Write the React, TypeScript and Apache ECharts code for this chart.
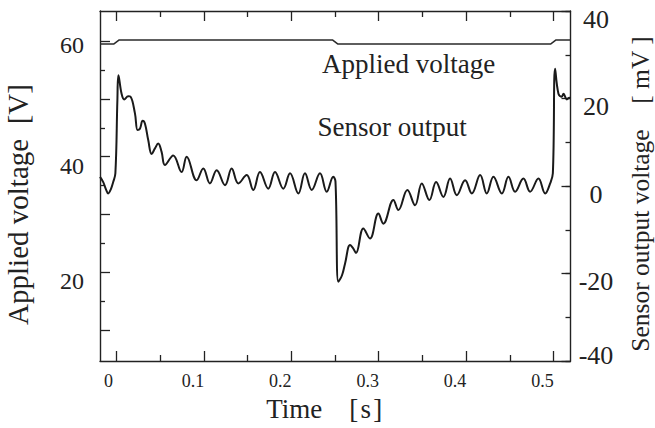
import React, { useEffect, useRef } from 'react';
import * as echarts from 'echarts';

const FONT = '"Liberation Serif", "Times New Roman", Times, serif';
const INK = '#222222';

// x range of the plot (seconds)
const X_MIN = -0.019;
const X_MAX = 0.5195;

// Applied voltage trace (left axis, V)
const voltageTime = [-0.019, -0.003, 0.003, 0.247, 0.253, 0.497, 0.503, 0.5195];
const voltageValue = [59.5, 59.5, 60.2, 60.2, 59.5, 59.5, 60.2, 60.2];

// Sensor output trace (right axis, mV)
const sensorTime = [
  -0.019, -0.0153, -0.0123, -0.0096, -0.0065, -0.0039, -0.0014, 0.0009, 0.0021,
  0.0057, 0.0087, 0.0133, 0.016, 0.021, 0.024, 0.0267, 0.0298, 0.0324, 0.0362,
  0.0401, 0.0439, 0.0476, 0.0515, 0.0553, 0.0648, 0.0744, 0.0802, 0.0916, 0.0992,
  0.1068, 0.1145, 0.1241, 0.1317, 0.1393, 0.1489, 0.1564, 0.1641, 0.1736, 0.1813,
  0.1908, 0.1985, 0.208, 0.2156, 0.2233, 0.2328, 0.2405, 0.248, 0.2505,
  0.2538, 0.258, 0.2615, 0.2672, 0.2706, 0.274, 0.2824, 0.29, 0.2996, 0.3053,
  0.3168, 0.3225, 0.3328, 0.3416, 0.3493, 0.358, 0.3657, 0.374, 0.3817, 0.3894,
  0.3989, 0.4066, 0.4161, 0.4237, 0.4313, 0.4409, 0.4485, 0.4561, 0.4656, 0.4733,
  0.4828, 0.4905, 0.4962, 0.4993, 0.5019, 0.5057, 0.5096, 0.5115, 0.5153, 0.5183,
  0.5195,
];
const sensorValue = [
  2.1, 0.9, -0.7, -1.7, -0.7, 0.9, 2.9, 19.6, 25.3,
  21.1, 19.8, 20.5, 20.4, 16.6, 12.8, 13.1, 14.9, 14.3, 10.5,
  7.3, 8.6, 9.7, 7.8, 4.8, 7.0, 3.2, 6.7, 1.3, 4.0,
  0.6, 3.6, 0.2, 4.0, 0.6, 2.5, -0.9, 3.2, -0.6, 3.2,
  -0.6, 2.9, -1.7, 2.9, -0.9, 2.9, -1.3, 2.1, 1.0,
  -21.9, -20.4, -17.7, -13.5, -14.2, -15.3, -9.7, -12.0, -6.3, -8.6,
  -3.2, -5.5, -0.9, -4.4, 0.6, -3.2, 0.9, -2.5, 1.7, -2.1,
  1.3, -1.7, 2.5, -1.7, 2.1, -1.7, 2.1, -1.3, 1.7, -1.3,
  1.7, -1.7, 0.6, 2.9, 26.8, 21.1, 20.4, 21.1, 19.8, 20.2,
  20.1,
];

// Ticks and labels
const timeTicks = [0, 0.1, 0.2, 0.3, 0.4, 0.5];
const timeMinorTicks = [0.05, 0.15, 0.25, 0.35, 0.45];
const timeTickLabels = ['0', '0.1', '0.2', '0.3', '0.4', '0.5'];
const voltageTicks = [10, 20, 30, 40, 50, 60];
const voltageMinorTicks = [15, 25, 35, 45, 55];
const voltageTickLabels = [20, 40, 60];
const sensorMin = -40;
const sensorMax = 40;

const V_MIN = 4.65;
const V_MAX = 65.2;

export default function App() {
  const ref = useRef<HTMLDivElement>(null);

  useEffect(() => {
    if (!ref.current) return;
    const chart = echarts.init(ref.current, undefined, { renderer: 'svg' });

    const lineStyle = { color: INK, width: 1.4 };
    const tickStyle = { color: INK, width: 1.3 };

    const option: any = {
      animation: false,
      backgroundColor: '#ffffff',
      textStyle: { fontFamily: FONT, color: INK },
      grid: { left: 100, right: 84.5, top: 11, bottom: 67, containLabel: false, outerBoundsMode: 'none' },
      xAxis: [
        {
          type: 'value',
          position: 'bottom',
          min: X_MIN,
          max: X_MAX,
          axisLine: { show: true, onZero: false, lineStyle },
          axisTick: { show: true, inside: true, length: 10, customValues: timeTicks, lineStyle: tickStyle },
          axisLabel: {
            show: true,
            customValues: timeTicks,
            margin: 11,
            formatter: (v: number) => {
              let i = 0;
              for (let k = 0; k < timeTicks.length; k++) if (Math.abs(timeTicks[k] - v) < 1e-9) i = k;
              return (i === 0 ? '{z|' : '{n|') + timeTickLabels[i] + '}';
            },
            rich: {
              z: { fontSize: 18, fontFamily: FONT, color: INK, padding: [0, 16, 0, 0] },
              n: { fontSize: 18, fontFamily: FONT, color: INK, padding: [0, 22, 0, 0] },
            },
          },
          splitLine: { show: false },
          name: 'Time    [\u200As\u200A]',
          nameLocation: 'middle',
          nameGap: 34,
          nameTextStyle: { fontFamily: FONT, fontSize: 27, color: INK, padding: [0, 22, 0, 0] },
        },
        {
          type: 'value',
          position: 'bottom',
          min: X_MIN,
          max: X_MAX,
          axisLine: { show: false, onZero: false },
          axisTick: { show: true, inside: true, length: 6, customValues: timeMinorTicks, lineStyle: tickStyle },
          axisLabel: { show: false },
          splitLine: { show: false },
        },
        {
          type: 'value',
          position: 'top',
          min: X_MIN,
          max: X_MAX,
          axisLine: { show: true, onZero: false, lineStyle },
          axisTick: { show: true, inside: true, length: 10, customValues: timeTicks, lineStyle: tickStyle },
          axisLabel: { show: false },
          splitLine: { show: false },
        },
        {
          type: 'value',
          position: 'top',
          min: X_MIN,
          max: X_MAX,
          axisLine: { show: false, onZero: false },
          axisTick: { show: true, inside: true, length: 6, customValues: timeMinorTicks, lineStyle: tickStyle },
          axisLabel: { show: false },
          splitLine: { show: false },
        },
      ],
      yAxis: [
        {
          type: 'value',
          position: 'left',
          min: V_MIN,
          max: V_MAX,
          axisLine: { show: true, onZero: false, lineStyle },
          axisTick: { show: true, inside: true, length: 10, customValues: voltageTicks, lineStyle: tickStyle },
          axisLabel: {
            show: true,
            customValues: voltageTickLabels,
            margin: 16,
            formatter: (v: number) => (Math.round(v) === 60 ? '{t|' : '{a|') + Math.round(v) + '}',
            rich: {
              a: { fontSize: 24, fontFamily: FONT, color: INK, padding: [18, 0, 0, 0] },
              t: { fontSize: 24, fontFamily: FONT, color: INK, padding: [8, 0, 0, 0] },
            },
          },
          splitLine: { show: false },
          name: 'Applied voltage  [V]',
          nameLocation: 'middle',
          nameRotate: 90,
          nameGap: 68,
          nameTextStyle: { fontFamily: FONT, fontSize: 29, color: INK, padding: [0, 37, 0, 0] },
        },
        {
          type: 'value',
          position: 'left',
          min: V_MIN,
          max: V_MAX,
          axisLine: { show: false, onZero: false },
          axisTick: { show: true, inside: true, length: 5, customValues: voltageMinorTicks, lineStyle: tickStyle },
          axisLabel: { show: false },
          splitLine: { show: false },
        },
        {
          type: 'value',
          position: 'right',
          min: sensorMin,
          max: sensorMax,
          interval: 20,
          axisLine: { show: true, onZero: false, lineStyle },
          axisTick: { show: true, inside: true, length: 9, lineStyle: tickStyle },
          axisLabel: {
            show: true,
            margin: 25.5,
            align: 'center',
            formatter: (v: number) => (v === sensorMin ? '{b|' : '{a|') + Math.round(v) + '}',
            rich: {
              a: { fontSize: 26, fontFamily: FONT, color: INK, padding: [16, 0, 0, 0], align: 'center' },
              b: { fontSize: 26, fontFamily: FONT, color: INK, padding: [0, 0, 12, 0], align: 'center' },
            },
          },
          splitLine: { show: false },
          name: 'Sensor output voltage    [ mV ]',
          nameLocation: 'middle',
          nameRotate: 90,
          nameGap: 57,
          nameTextStyle: { fontFamily: FONT, fontSize: 25.5, color: INK, padding: [0, 16, 0, 0] },
        },
        {
          type: 'value',
          position: 'right',
          min: sensorMin,
          max: sensorMax,
          interval: 10,
          axisLine: { show: false, onZero: false },
          axisTick: { show: true, inside: true, length: 5, lineStyle: tickStyle },
          axisLabel: { show: false },
          splitLine: { show: false },
        },
      ],
      graphic: [
        {
          type: 'text',
          x: 322,
          y: 63.5,
          silent: true,
          style: { text: 'Applied voltage', fontSize: 27, fontFamily: FONT, fill: INK, align: 'left', verticalAlign: 'middle' },
        },
        {
          type: 'text',
          x: 317.5,
          y: 127,
          silent: true,
          style: { text: 'Sensor output', fontSize: 27, fontFamily: FONT, fill: INK, align: 'left', verticalAlign: 'middle' },
        },
      ],
      series: [
        {
          name: 'Applied voltage',
          type: 'line',
          xAxisIndex: 0,
          yAxisIndex: 0,
          data: voltageTime.map((t, i) => [t, voltageValue[i]]),
          showSymbol: false,
          symbol: 'none',
          lineStyle: { color: '#2a2a2a', width: 1.5 },
          silent: true,
        },
        {
          name: 'Sensor output',
          type: 'line',
          xAxisIndex: 0,
          yAxisIndex: 2,
          data: sensorTime.map((t, i) => [t, sensorValue[i]]),
          smooth: 0.4,
          showSymbol: false,
          symbol: 'none',
          lineStyle: { color: '#1a1a1a', width: 2 },
          silent: true,
        },
      ],
    };

    chart.setOption(option);
    return () => chart.dispose();
  }, []);

  return (
    <div
      ref={ref}
      style={{ position: 'fixed', left: 0, top: 0, width: 655, height: 428, background: '#fff' }}
    />
  );
}
